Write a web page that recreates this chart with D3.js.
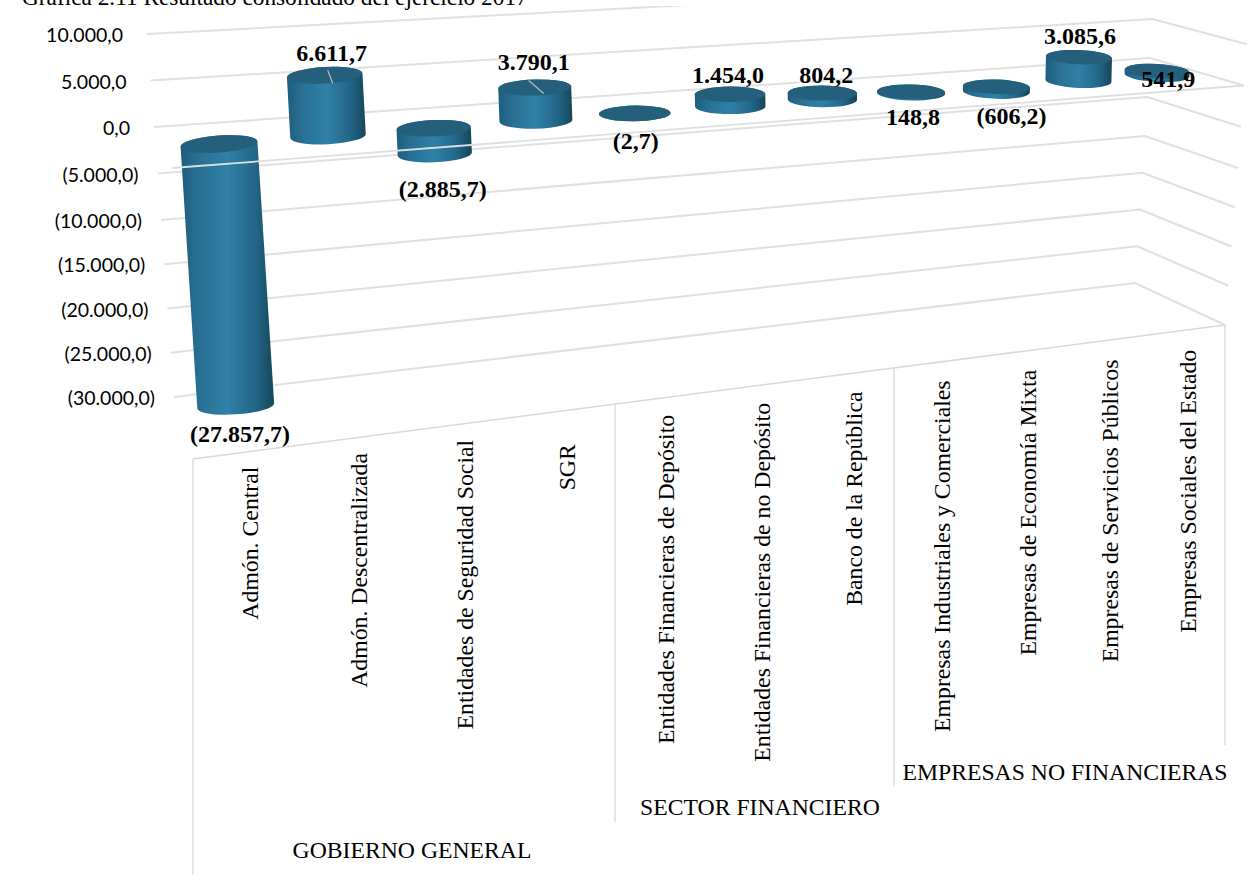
<!DOCTYPE html>
<html>
<head>
<meta charset="utf-8">
<script src="https://cdn.jsdelivr.net/npm/d3@7"></script>
<style>
body{margin:0;background:#fff;}
text{fill:#000;}
</style>
</head>
<body>
<div id="viz-container"></div>
<script>
let titleText="Gráfica 2.11 Resultado consolidado del ejercicio 2017";

let categories=["Admón. Central","Admón. Descentralizada","Entidades de Seguridad Social","SGR",
  "Entidades Financieras de Depósito","Entidades Financieras de no Depósito","Banco de la República",
  "Empresas Industriales y Comerciales","Empresas de Economía Mixta","Empresas de Servicios Públicos",
  "Empresas Sociales del Estado"];
let values=[-27857.7,6611.7,-2885.7,3790.1,-2.7,1454.0,804.2,148.8,-606.2,3085.6,541.9];
let yTicks=[10000,5000,0,-5000,-10000,-15000,-20000,-25000,-30000];
let groups=["GOBIERNO GENERAL","SECTOR FINANCIERO","EMPRESAS NO FINANCIERAS"];

let W=1248,H=886;
let viz=d3.select("#viz-container")
 .append("svg")
   .attr("id","viz")
   .attr("width",W)
   .attr("height",H)

let es=d3.formatLocale({decimal:",",thousands:".",grouping:[3],currency:["",""]});
let fmt=es.format(",.1f");
function label(v){
  return v<0 ? "("+fmt(-v)+")" : fmt(v);
}

// the walls of the 3d box, all indexed by value
let stops=[-30000,-10000,10000];
let leftX=d3.scaleLinear().domain(stops).range([174,161,147]);
let leftY=d3.scaleLinear().domain(stops).range([397,220,34]);
let backX=d3.scaleLinear().domain(stops).range([1135,1145,1155]);
let backY=d3.scaleLinear().domain(stops).range([283,136,-20]);
let frontX=d3.scaleLinear().domain(stops).range([1225,1238,1250]);
let frontY=d3.scaleLinear().domain(stops).range([325,168,3]);
let floorLeftX=d3.scaleLinear().domain([-30000,0]).range([193,172]);
let floorLeftY=d3.scaleLinear().domain([-30000,0]).range([459,168]);

// each lane gets narrower to the right because of the perspective
let laneX=d3.scalePow().exponent(2).domain([32.75,22.75]).range([219,1157]);
function lane(i){ return laneX(32.75-i); }
let laneZero=d3.scaleLinear().domain([219,1157]).range([144,75]);
let laneUnit=d3.scaleLinear().domain([219,1157]).range([0.0094,0.0075]);
let laneLean=d3.scaleLinear().domain([219,1157]).range([-0.0006,0.00026]);
let laneWidth=d3.scaleLinear().domain([219,1157]).range([77,65]);
let laneTilt=d3.scaleLinear().domain([219,1157]).range([-4,3]);
let laneRy=d3.scaleLinear().domain([219,1157]).range([8.5,7]);
let catGap=d3.scaleLinear().domain([250,1188]).range([15,20]);

function px(i,v){ let x=lane(i); return x+v*laneLean(x); }
function py(i,v){ let x=lane(i); return laneZero(x)-v*laneUnit(x); }

let defs=viz.append("defs");
let grad=defs.append("linearGradient").attr("id","barGrad");
[[0,"#1f5d7c"],[0.18,"#276f92"],[0.5,"#2f81a8"],[0.8,"#226688"],[1,"#164659"]].forEach(function(s){
  grad.append("stop").attr("offset",s[0]).attr("stop-color",s[1]);
});
defs.append("clipPath").attr("id","topCut").append("rect")
  .attr("x",0).attr("y",6).attr("width",W).attr("height",H);

// title, cut by the top of the picture as in the original
viz.append("text").text(titleText)
  .attr("x",22).attr("y",5)
  .attr("font-family","Liberation Serif").attr("font-size",23.3);

// grid
viz.append("g").attr("clip-path","url(#topCut)")
  .selectAll("polyline").data(yTicks).enter()
  .append("polyline")
    .attr("points",function(d){
      return [[leftX(d),leftY(d)],[backX(d),backY(d)],[frontX(d),frontY(d)]].join(" ");
    })
    .attr("fill","none")
    .attr("stroke","#e0e0e0")
    .attr("stroke-width",2);

viz.selectAll(".ytick").data(yTicks).enter()
  .append("text")
    .attr("class","ytick")
    .text(label)
    .attr("x",function(d){ return leftX(d)-(d<0?19:24); })
    .attr("y",function(d){ return leftY(d); })
    .attr("dy","0.42em")
    .attr("text-anchor","end")
    .attr("font-family","Lato")
    .attr("font-size",19.5)
    .attr("fill","#111");

// floor edge and separators
viz.append("line")
  .attr("x1",floorLeftX(-30000)).attr("y1",floorLeftY(-30000))
  .attr("x2",frontX(-30000)).attr("y2",frontY(-30000))
  .attr("stroke","#d9d9d9").attr("stroke-width",1.5);

function frontEdgeY(x){
  let t=(x-floorLeftX(-30000))/(frontX(-30000)-floorLeftX(-30000));
  return floorLeftY(-30000)+t*(frontY(-30000)-floorLeftY(-30000));
}

// cylinders
function cylinder(d,i){
  let hi=Math.max(d,0), lo=Math.min(d,0);
  let x0=lane(i);
  let rx=laneWidth(x0)/2, ry=laneRy(x0), tilt=laneTilt(x0);
  let a=tilt*Math.PI/180;
  let dx=rx*Math.cos(a), dy=rx*Math.sin(a);
  let tx=px(i,hi), ty=py(i,hi), bx=px(i,lo), by=py(i,lo);
  let g=d3.select(this);
  g.append("path")
    .attr("d","M"+(tx-dx)+","+(ty-dy)+" L"+(bx-dx)+","+(by-dy)
      +" A"+rx+","+ry+" "+tilt+" 0 0 "+(bx+dx)+","+(by+dy)
      +" L"+(tx+dx)+","+(ty+dy)
      +" A"+rx+","+ry+" "+tilt+" 0 0 "+(tx-dx)+","+(ty-dy)+" Z")
    .attr("fill","url(#barGrad)");
  g.append("ellipse")
    .attr("rx",rx).attr("ry",ry)
    .attr("transform","translate("+tx+","+ty+") rotate("+tilt+")")
    .attr("fill","#245f7c");
}
viz.selectAll(".bar").data(values).enter()
  .append("g").attr("class","bar")
  .each(cylinder);

// front edge of the zero plane runs over the bars
viz.append("line")
  .attr("x1",floorLeftX(0)).attr("y1",floorLeftY(0))
  .attr("x2",frontX(0)).attr("y2",frontY(0))
  .attr("stroke","#dcdfe0").attr("stroke-width",1.8);

// data labels were moved by hand in the original: [dx, dy from bar end]
let labelNudge=[[21,36],[7,-14],[9,43],[-1,-17],[1,36],[-2,-11],[4,-10],[2,33],[15,32],[1,-13],[11,16]];
viz.selectAll(".vlabel").data(values).enter()
  .append("text")
    .attr("class","vlabel")
    .text(label)
    .attr("x",function(d,i){ return px(i,Math.max(d,0))+labelNudge[i][0]; })
    .attr("y",function(d,i){
      return py(i,d)+labelNudge[i][1];
    })
    .attr("text-anchor","middle")
    .attr("font-family","Liberation Serif")
    .attr("font-weight","bold")
    .attr("font-size",24);

// leader lines on the two labels that were pulled away
let leaders=[[1,3,-5,8,8],[3,-6,-7,9,6]];
viz.selectAll(".leader").data(leaders).enter()
  .append("line")
    .attr("class","leader")
    .attr("x1",function(d){ return px(d[0],values[d[0]])+d[1]; })
    .attr("y1",function(d){ return py(d[0],values[d[0]])+d[2]; })
    .attr("x2",function(d){ return px(d[0],values[d[0]])+d[3]; })
    .attr("y2",function(d){ return py(d[0],values[d[0]])+d[4]; })
    .attr("stroke","#bdbdbd")
    .attr("stroke-width",1.2);

// category labels, rotated, hanging from the floor edge
viz.selectAll(".cat").data(categories).enter()
  .append("text")
    .attr("class","cat")
    .text(function(d){ return d; })
    .attr("transform",function(d,i){
      let x=lane(i)+31;
      let extra=(d=="SGR")?17:0;
      return "translate("+x+","+(frontEdgeY(x)+catGap(x)+extra)+") rotate(-90)";
    })
    .attr("dy","0.35em")
    .attr("text-anchor","end")
    .attr("font-family","Liberation Serif")
    .attr("font-size",23.75);

// separators between the groups
let sepEnds=[875,822,786,745];
let sepX=[193,615,894,1225];
viz.selectAll(".sep").data(sepX).enter()
  .append("line")
    .attr("class","sep")
    .attr("x1",function(d){ return d; })
    .attr("x2",function(d){ return d; })
    .attr("y1",function(d){ return frontEdgeY(d); })
    .attr("y2",function(d,i){ return sepEnds[i]; })
    .attr("stroke","#d9d9d9")
    .attr("stroke-width",1.3);

let groupX=[412,760,1065];
let groupY=[858,815,780];
viz.selectAll(".group").data(groups).enter()
  .append("text")
    .attr("class","group")
    .text(function(d){ return d; })
    .attr("x",function(d,i){ return groupX[i]; })
    .attr("y",function(d,i){ return groupY[i]; })
    .attr("text-anchor","middle")
    .attr("font-family","Liberation Serif")
    .attr("font-size",23.7);
</script>
</body>
</html>
